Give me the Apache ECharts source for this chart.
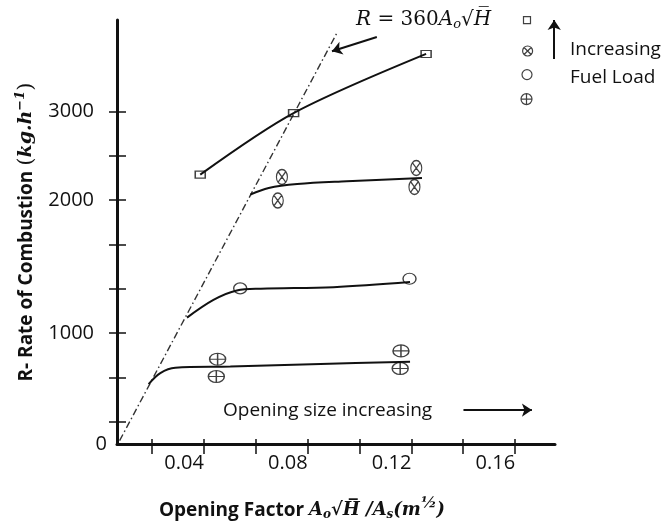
<!DOCTYPE html>
<html><head><meta charset="utf-8">
<script src="https://cdn.jsdelivr.net/npm/echarts@6/dist/echarts.min.js"></script>
<style>html,body{margin:0;padding:0;background:#fff}#c{width:666px;height:526px}</style>
</head><body><div id="c"></div>
<script>
// ---- axis ticks / labels (as drawn in the reference; its y labels are not evenly spaced)
const xTickValues = [0.02, 0.04, 0.06, 0.08, 0.10, 0.12, 0.14, 0.16];
const xLabelValues = [0.04, 0.08, 0.12, 0.16];
const yTickValues = [200, 600, 1000, 1400, 1800, 2200, 2600, 3000];
const yLabelValues = [1000, 2200, 3000];
const yLabelTexts = ['1000', '2000', '3000'];

// ---- measured points (opening factor, rate of combustion) per fuel load
const squarePts = [[0.0386, 2430], [0.0746, 2985], [0.1257, 3519]];
const crossPts  = [[0.0701, 2409], [0.0685, 2196], [0.1219, 2490], [0.1212, 2319]];
const ringPts   = [[0.0540, 1404], [0.1193, 1491]];
const plusPts   = [[0.0453, 765], [0.0448, 609], [0.1160, 840], [0.1157, 681]];

// ---- hand-drawn trend curves
const squareCurve = [[0.0386, 2430], [0.0746, 2985], [0.1257, 3519]];
const crossCurve  = [[0.0579, 2250], [0.0650, 2310], [0.0760, 2345], [0.0951, 2370], [0.1241, 2400]];
const ringCurve   = [[0.0335, 1140], [0.0437, 1300], [0.0527, 1385], [0.0620, 1401], [0.0900, 1415], [0.1195, 1461]];
const plusCurve   = [[0.0187, 540], [0.0232, 640], [0.0290, 688], [0.0502, 699], [0.0850, 722], [0.1195, 741]];

// ---- R = 360 Ao sqrt(H) limit line and annotation arrows
const limitLine = [[0.0075, 30], [0.0913, 3708]];
const formulaArrow = [[0.1067, 3672], [0.0894, 3543]];
const openingArrow = [[0.1401, 306], [0.1665, 306]];
const fuelArrow = [[0.1751, 3474], [0.1751, 3825]];

const X_MIN = 0.0065, X_MAX = 0.1754, Y_MIN = 0, Y_MAX = 3825;
const INK = '#111';
const SERIF = 'DejaVu Serif';
const SANS = 'Open Sans';

const P_CROSS = 'path://M0,10A10,10,0,1,1,20,10A10,10,0,1,1,0,10ZM2.93,2.93L17.07,17.07M17.07,2.93L2.93,17.07';
const P_RING  = 'path://M0,10A10,10,0,1,1,20,10A10,10,0,1,1,0,10Z';
const P_PLUS  = 'path://M0,10A10,10,0,1,1,20,10A10,10,0,1,1,0,10ZM0,10L20,10M10,0L10,20';
const P_RECT  = 'path://M0,0L20,0L20,20L0,20Z';

const hollow = { color: 'rgba(0,0,0,0)', borderColor: INK, borderWidth: 1.3 };

function curve(name, data, smooth) {
  return { name, type: 'line', data, smooth: smooth, showSymbol: false,
    symbol: 'none', lineStyle: { color: INK, width: 2 }, z: 3, silent: true };
}
function marks(name, data, symbol, size) {
  return { name, type: 'scatter', data, symbol, symbolSize: size, itemStyle: hollow, z: 5, silent: true };
}
function arrowItem(pts) {
  return [{ coord: pts[0] }, { coord: pts[1] }];
}
function legendFor(name, left, top, w, h) {
  return { data: [name], left, top, orient: 'vertical', itemWidth: w, itemHeight: h, padding: 0,
    itemGap: 0, formatter: () => '', selectedMode: false, textStyle: { fontSize: 1 },
    itemStyle: { color: 'rgba(0,0,0,0)', borderColor: INK, borderWidth: 1.2 } };
}

const mathBI = { fontFamily: SERIF, fontStyle: 'italic', fontWeight: 'bold', fontSize: 18, color: INK };

const chart = echarts.init(document.getElementById('c'), null, { renderer: 'canvas' });
chart.setOption({
  animation: false,
  backgroundColor: '#fff',
  grid: { left: 117, right: 111, top: 20, bottom: 81, containLabel: false },
  legend: [
    legendFor('Fuel load 4', 522, 16, 10, 7),
    legendFor('Fuel load 3', 522, 44, 10, 14),
    legendFor('Fuel load 2', 521, 69, 12, 10),
    legendFor('Fuel load 1', 519, 93, 15, 11)
  ],
  xAxis: [
    { type: 'value', min: X_MIN, max: X_MAX, position: 'bottom',
      axisLine: { show: true, onZero: false, lineStyle: { color: INK, width: 3 } },
      axisTick: { show: true, customValues: xTickValues, length: 10, lineStyle: { color: INK, width: 1.5 } },
      axisLabel: { show: true, customValues: xLabelValues, formatter: v => v.toFixed(2), align: 'right',
        margin: 9, fontSize: 20, fontFamily: SANS, color: INK },
      splitLine: { show: false },
      name: 'Opening Factor {m|A}{sub|o}{m|√H\u0305 /A}{sub|s}{m|(m}{sup|½}{m|)}',
      nameLocation: 'middle', nameGap: 52,
      nameTextStyle: { fontFamily: SANS, fontWeight: 'bold', fontSize: 19, color: INK, padding: [0, 68, 0, 0],
        rich: { m: mathBI, sub: Object.assign({}, mathBI, { fontSize: 12, padding: [9, 0, 0, 0] }),
                sup: Object.assign({}, mathBI, { fontSize: 15, padding: [0, 0, 14, 0] }) } } },
    { type: 'value', min: X_MIN, max: X_MAX, position: 'bottom', offset: 0,
      axisLine: { show: false, onZero: false },
      axisTick: { show: true, inside: true, customValues: xTickValues, length: 5, lineStyle: { color: INK, width: 1.5 } },
      axisLabel: { show: false }, splitLine: { show: false } }
  ],
  yAxis: [
    { type: 'value', min: Y_MIN, max: Y_MAX, position: 'left',
      axisLine: { show: true, onZero: false, lineStyle: { color: INK, width: 3 } },
      axisTick: { show: true, customValues: yTickValues, length: 8, lineStyle: { color: INK, width: 1.5 } },
      axisLabel: { show: true, customValues: yLabelValues,
        formatter: v => { const i = yLabelValues.findIndex(t => Math.abs(t - v) < 1); return i >= 0 ? yLabelTexts[i] : ''; },
        margin: 23, fontSize: 20, fontFamily: SANS, color: INK },
      splitLine: { show: false },
      name: 'R- Rate of Combustion {p|(}{m|kg.h}{sup|−1}{p|)}',
      nameLocation: 'middle', nameRotate: 90, nameGap: 78,
      nameTextStyle: { fontFamily: SANS, fontWeight: 'bold', fontSize: 19, color: INK,
        rich: { m: Object.assign({}, mathBI, { fontSize: 19 }),
                p: Object.assign({}, mathBI, { fontStyle: 'normal', fontWeight: 'normal', fontSize: 21 }),
                sup: Object.assign({}, mathBI, { fontSize: 13, padding: [0, 0, 12, 0] }) } } },
    { type: 'value', min: Y_MIN, max: Y_MAX, position: 'left', offset: 0,
      axisLine: { show: false, onZero: false },
      axisTick: { show: true, inside: true, customValues: yTickValues, length: 9, lineStyle: { color: INK, width: 1.5 } },
      axisLabel: { show: true, customValues: [0], formatter: () => '0', margin: 10, fontSize: 20,
        fontFamily: SANS, color: INK, padding: [10, 0, 0, 0] },
      splitLine: { show: false } }
  ],
  series: [
    { name: 'limit', type: 'line', data: limitLine, showSymbol: false, symbol: 'none', silent: true, z: 2,
      lineStyle: { color: '#333', width: 1.4, type: [7, 3, 1.5, 3] },
      markLine: { silent: true, symbol: ['none', 'arrow'], symbolSize: 10, label: { show: false },
        lineStyle: { color: INK, width: 2, type: 'solid' }, emphasis: { disabled: true },
        data: [arrowItem(formulaArrow), arrowItem(openingArrow), arrowItem(fuelArrow)] } },
    curve('curve 4', squareCurve, 0.3),
    curve('curve 3', crossCurve, 0.35),
    curve('curve 2', ringCurve, 0.35),
    curve('curve 1', plusCurve, 0.35),
    marks('Fuel load 4', squarePts, P_RECT, [10, 7]),
    marks('Fuel load 3', crossPts, P_CROSS, [11, 15]),
    marks('Fuel load 2', ringPts, P_RING, [13, 11]),
    marks('Fuel load 1', plusPts, P_PLUS, [16, 12])
  ],
  graphic: [
    { type: 'text', x: 356, y: 20, silent: true,
      style: { text: '{i|R} = 360{i|A}{sub|o}√{i|H\u0305}', verticalAlign: 'middle', fill: INK,
        font: '20px "DejaVu Serif"',
        rich: { i: { fontFamily: SERIF, fontStyle: 'italic', fontSize: 20, fill: INK },
                sub: { fontFamily: SERIF, fontStyle: 'italic', fontSize: 13, padding: [10, 0, 0, 0], fill: INK } } } },
    { type: 'text', x: 223, y: 411, silent: true,
      style: { text: 'Opening size increasing', verticalAlign: 'middle', fill: INK, fontSize: 19, fontFamily: SANS } },
    { type: 'text', x: 570, y: 50, silent: true,
      style: { text: 'Increasing', verticalAlign: 'middle', fill: INK, fontSize: 19, fontFamily: SANS } },
    { type: 'text', x: 570, y: 78, silent: true,
      style: { text: 'Fuel Load', verticalAlign: 'middle', fill: INK, fontSize: 19, fontFamily: SANS } }
  ]
});
</script></body></html>
